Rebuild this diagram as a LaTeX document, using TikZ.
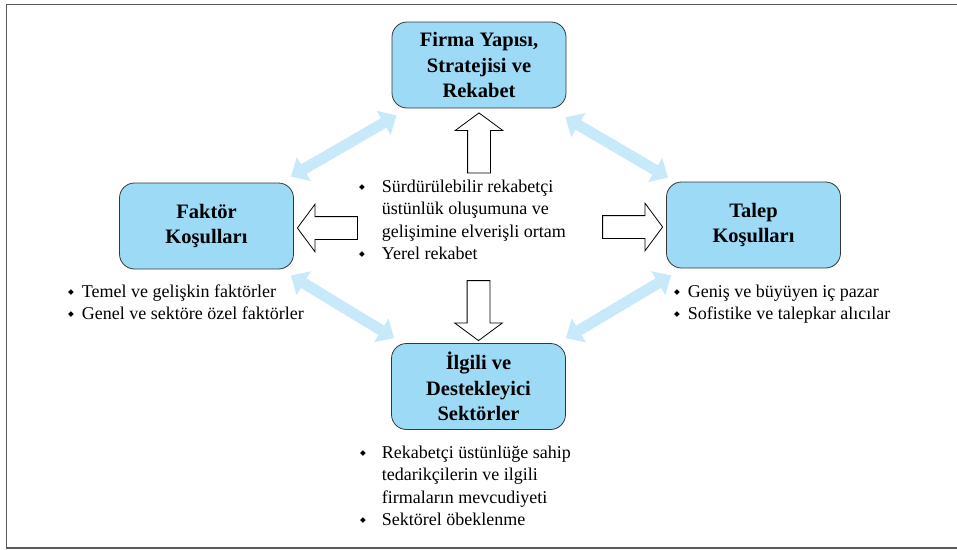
\documentclass[tikz,border=0pt]{standalone}
\usepackage{fontspec}
\setmainfont{Liberation Serif}
\newfontfamily\symfont{DejaVu Sans}
\usetikzlibrary{arrows.meta,shapes.arrows,calc}
\definecolor{boxblue}{RGB}{157,218,246}
\definecolor{linkblue}{RGB}{200,233,250}
\definecolor{boxline}{RGB}{55,55,55}
\newcommand{\bul}{\raisebox{2.8pt}{\symfont\fontsize{7.5}{7.5}\selectfont ◆}}

\begin{document}
\begin{tikzpicture}[x=1pt, y=-1pt]
  \useasboundingbox (0, 0) rectangle (957, 549);
  \draw [gray!70!black, line width=1.2pt] (6.5, 4.5) rectangle (970, 548);  % Rahmen
  \tikzstyle{box}=[draw=boxline, fill=boxblue, rounded corners=15pt, line width=0.8pt, minimum width=174pt, minimum height=86pt, align=center, font=\bfseries\fontsize{20.5}{25.5}\selectfont]
  \tikzstyle{list}=[inner sep=0pt, anchor=base west, font=\fontsize{18}{22.5}\selectfont]
  \tikzstyle{link}=[draw=linkblue, line width=11pt, {Triangle[width=27pt, length=15pt]}-{Triangle[width=27pt, length=15pt]}]
  \tikzstyle{bigarrow}=[single arrow, draw=black, fill=white, line width=0.8pt, inner sep=11pt, minimum width=0pt, minimum height=60pt, single arrow head extend=12.5pt, single arrow tip angle=107, anchor=tip]

  \node[box] (firma)  at (479, 65)    {Firma Yapısı,\\Stratejisi ve\\Rekabet};
  \node[box] (faktor) at (206.5, 226) {Faktör\\Koşulları};
  \node[box] (talep)  at (753.5, 225) {Talep\\Koşulları};
  \node[box] (ilgili) at (478.5, 386.5) {İlgili ve\\Destekleyici\\Sektörler};

  \node[list] (ortam) at (359, 192) {\begin{tabular}[t]{@{}c@{\hspace{17pt}}l@{}}
    \bul & Sürdürülebilir rekabetçi\\
         & üstünlük oluşumuna ve\\
         & gelişimine elverişli ortam\\
    \bul & Yerel rekabet
  \end{tabular}};
  \node[list] (faktorlist) at (68, 297) {\begin{tabular}[t]{@{}c@{\hspace{8pt}}l@{}}
    \bul & Temel ve gelişkin faktörler\\
    \bul & Genel ve sektöre özel faktörler
  \end{tabular}};
  \node[list] (taleplist) at (674, 297) {\begin{tabular}[t]{@{}c@{\hspace{8pt}}l@{}}
    \bul & Geniş ve büyüyen iç pazar\\
    \bul & Sofistike ve talepkar alıcılar
  \end{tabular}};
  \node[list] (ilgililist) at (360, 458) {\begin{tabular}[t]{@{}c@{\hspace{16pt}}l@{}}
    \bul & Rekabetçi üstünlüğe sahip\\
         & tedarikçilerin ve ilgili\\
         & firmaların mevcudiyeti\\
    \bul & Sektörel öbeklenme
  \end{tabular}};

  % beyaz oklar
  \node[bigarrow, rotate=90]  (up)    at ($(firma.south)+(0, 4)$) {};
  \node[bigarrow, rotate=-90] (down)  at ($(ilgili.north)+(0, -2)$) {};
  \node[bigarrow, rotate=180] (left)  at ($(faktor.east)+(3, 2)$) {};
  \node[bigarrow]             (right) at ($(talep.west)+(-3, 2)$) {};

  \draw[link] ($(faktor.north east)+(-3, -6)$) -- ($(firma.south west)+(5, 7)$);
  \draw[link] ($(firma.south east)+(-1, 9)$) -- ($(talep.north west)+(2, -4)$);
  \draw[link] ($(faktor.south east)+(-3, 6)$) -- ($(ilgili.north west)+(3, -5)$);
  \draw[link] ($(ilgili.north east)+(0, -5)$) -- ($(talep.south west)+(5, 7)$);
\end{tikzpicture}
\end{document}
